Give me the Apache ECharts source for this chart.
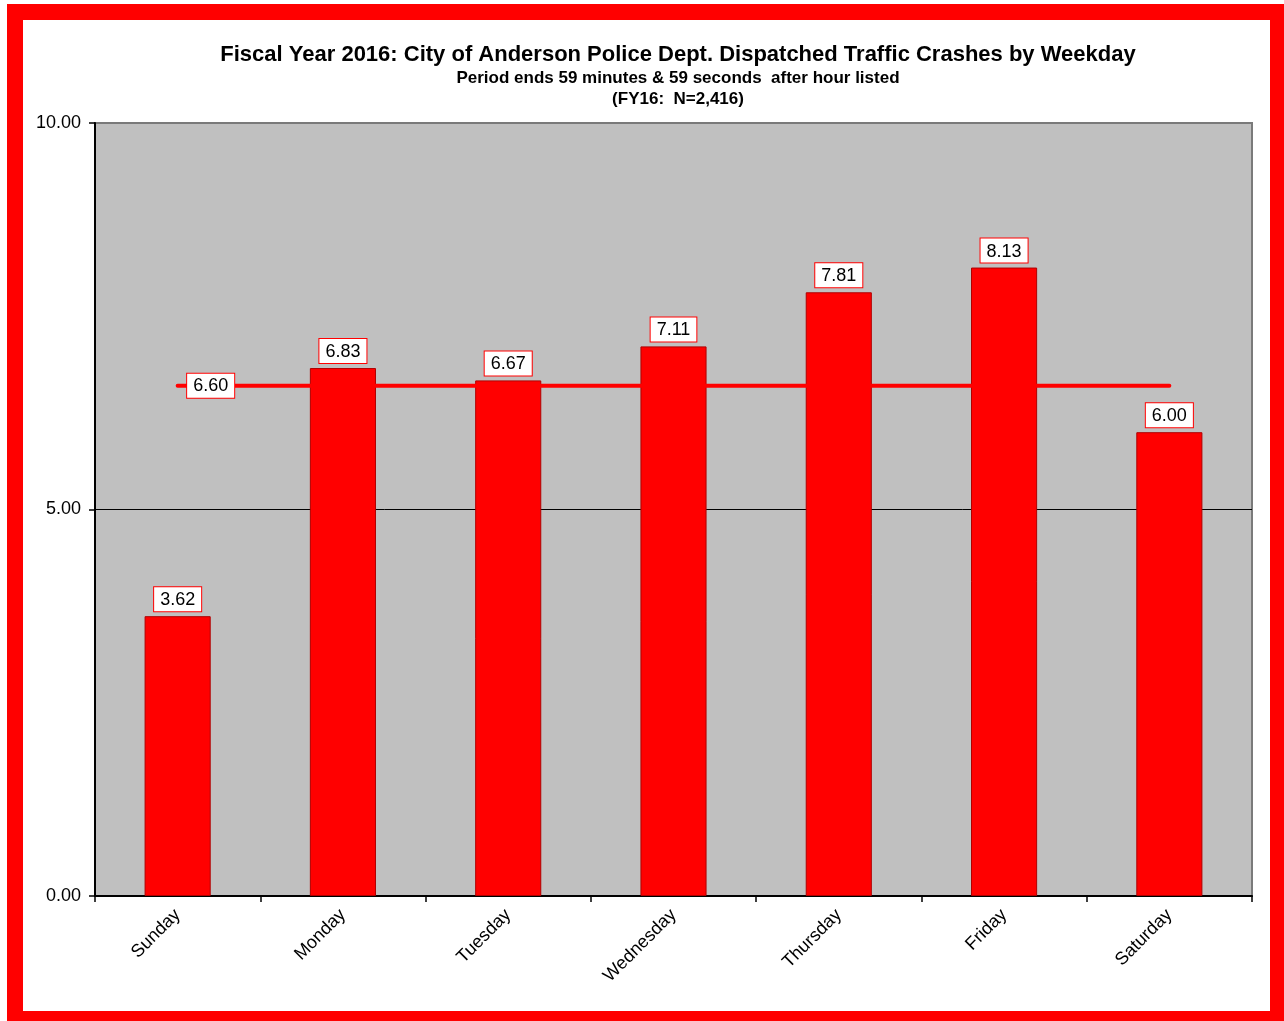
<!DOCTYPE html>
<html>
<head>
<meta charset="utf-8">
<script src="https://cdn.jsdelivr.net/npm/echarts@6/dist/echarts.min.js"></script>
<style>
  html, body { margin: 0; padding: 0; background: #fff; }
  #chart { position: absolute; left: 0; top: 0; width: 1284px; height: 1021px; }
  .frame {
    position: absolute; left: 7px; top: 4px; width: 1277px; height: 1017px;
    box-sizing: border-box; border-style: solid; border-color: #ff0000;
    border-width: 16px 14px 10px 16px; pointer-events: none;
  }
</style>
</head>
<body>
<div id="chart"></div>
<div class="frame"></div>
<script>
const days = ["Sunday", "Monday", "Tuesday", "Wednesday", "Thursday", "Friday", "Saturday"];
const crashes = [3.62, 6.83, 6.67, 7.11, 7.81, 8.13, 6.00];
const average = [6.60, 6.60, 6.60, 6.60, 6.60, 6.60, 6.60];
const yTicks = [0, 5, 10];

const font = "'Liberation Sans', Arial, sans-serif";
// white box with red border, used for the value labels
const boxLabel = {
  color: "#000", fontSize: 18, fontFamily: font,
  backgroundColor: "#fff", borderColor: "#ff0000", borderWidth: 1,
  padding: [4, 6, 2, 6]
};
let myChart = echarts.init(document.getElementById("chart"));

myChart.setOption({
  animation: false,
  backgroundColor: "#fff",
  graphic: [
    {
      type: "text", x: 678, y: 55,
      style: {
        text: "Fiscal Year 2016: City of Anderson Police Dept. Dispatched Traffic Crashes by Weekday",
        font: "bold 22px " + font, fill: "#000", textAlign: "center", textVerticalAlign: "middle"
      }
    },
    {
      type: "text", x: 678, y: 78,
      style: {
        text: "Period ends 59 minutes & 59 seconds  after hour listed",
        font: "bold 17px " + font, fill: "#000", textAlign: "center", textVerticalAlign: "middle"
      }
    },
    {
      type: "text", x: 678, y: 99,
      style: {
        text: "(FY16:  N=2,416)",
        font: "bold 17px " + font, fill: "#000", textAlign: "center", textVerticalAlign: "middle"
      }
    }
  ],
  grid: {
    left: 95, right: 32, top: 123, bottom: 125,
    show: true, backgroundColor: "#c0c0c0",
    borderColor: "#7a7a7a", borderWidth: 2
  },
  xAxis: {
    type: "category",
    data: days,
    boundaryGap: true,
    axisLine: { lineStyle: { color: "#000", width: 2 } },
    axisTick: { show: true, length: 6, lineStyle: { color: "#000", width: 1.5 } },
    axisLabel: {
      rotate: 45, margin: 16, color: "#000",
      fontSize: 18, fontFamily: font, interval: 0
    }
  },
  yAxis: {
    type: "value",
    min: yTicks[0], max: yTicks[yTicks.length - 1], interval: 5,
    axisLine: { show: true, lineStyle: { color: "#000", width: 2 } },
    axisTick: { show: true, length: 6, lineStyle: { color: "#000", width: 1.5 } },
    axisLabel: {
      color: "#000", fontSize: 18, fontFamily: font, margin: 14,
      formatter: v => v.toFixed(2)
    },
    splitLine: {
      show: true,
      lineStyle: { color: ["rgba(0,0,0,0)", "#000", "rgba(0,0,0,0)"], width: 1 }
    }
  },
  series: [
    {
      name: "Crashes",
      type: "bar",
      data: crashes,
      barWidth: "40%",
      itemStyle: { color: "#ff0000", borderColor: "#b00000", borderWidth: 1 },
      label: Object.assign({
        show: true, position: "top", distance: 5,
        formatter: p => p.value.toFixed(2)
      }, boxLabel),
      z: 2
    },
    {
      name: "Average",
      type: "line",
      data: average.map((v, i) => i === 0 ? {
        value: v,
        label: Object.assign({
          show: true, position: "right", distance: 9,
          formatter: p => p.value.toFixed(2)
        }, boxLabel)
      } : v),
      symbol: "circle",
      symbolSize: 1,
      showSymbol: true,
      itemStyle: { color: "#ff0000" },
      lineStyle: { color: "#ff0000", width: 4, cap: "round" },
      z: 3
    }
  ]
});
</script>
</body>
</html>
